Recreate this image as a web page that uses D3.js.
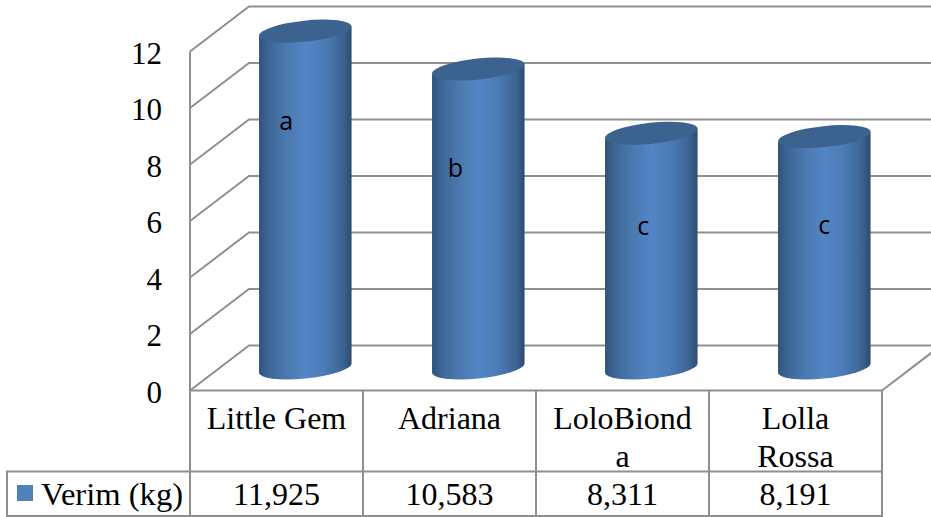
<!DOCTYPE html>
<html>
<head>
<meta charset="utf-8">
<script src="https://cdnjs.cloudflare.com/ajax/libs/d3/7.8.5/d3.min.js"></script>
<style>
  html, body { margin: 0; padding: 0; background: #fff; overflow: hidden; }
  svg { display: block; }
  text { font-family: "Liberation Serif", serif; fill: #000; }
</style>
</head>
<body>
<main></main>
<script>
// data
const categories = ["Little Gem", "Adriana", "LoloBionda", "Lolla Rossa"];
const categoryLines = [["Little Gem"], ["Adriana"], ["LoloBiond", "a"], ["Lolla", "Rossa"]];
const values = [11.925, 10.583, 8.311, 8.191];
const letters = ["a", "b", "c", "c"];
const yTicks = [0, 2, 4, 6, 8, 10, 12];
const seriesName = "Verim (kg)";

const width = 931;
const height = 517;

// 3d look: how far the back wall is pushed from the front plane
const depthX = 59;
const depthY = 45;

// table rows
const tableTop = 390.5;
const rowSplit = 471.5;
const tableBottom = 516;
const legendLeft = 7;

const gridColor = "#8f8f8f";
const fontSize = 32;

const x = d3.scaleBand().domain(categories).range([190, 882]);
const y = d3.scaleLinear().domain([0, 12]).range([tableTop, 51.5]);

const svg = d3.select("main").append("svg")
  .attr("width", width)
  .attr("height", height)
  .attr("viewBox", [0, 0, width, height]);

// horizontal gradient for the cylinder sides
const grad = svg.append("defs").append("linearGradient").attr("id", "side");
grad.selectAll("stop")
  .data([[0, "#2f5279"], [0.1, "#3d6696"], [0.3, "#4b79b0"], [0.5, "#5386c6"], [0.7, "#4c7cb5"], [0.9, "#3d6594"], [1, "#2c4b70"]])
  .join("stop")
  .attr("offset", d => d[0])
  .attr("stop-color", d => d[1]);

// walls and gridlines
const grid = svg.append("g")
  .attr("fill", "none")
  .attr("stroke", gridColor)
  .attr("stroke-width", 2);

grid.selectAll("path")
  .data(yTicks)
  .join("path")
  .attr("d", d => `M${x.range()[0]},${y(d)}L${x.range()[0] + depthX},${y(d) - depthY}L${x.range()[1] + depthX},${y(d) - depthY}`);

grid.append("line")
  .attr("x1", x.range()[0]).attr("x2", x.range()[0])
  .attr("y1", y(12)).attr("y2", tableBottom);

grid.append("line")
  .attr("x1", x.range()[1]).attr("x2", x.range()[1] + depthX)
  .attr("y1", y(0)).attr("y2", y(0) - depthY);

// y axis labels
const axis = svg.append("g")
  .attr("transform", `translate(${x.range()[0]},0)`)
  .call(d3.axisLeft(y).tickValues(yTicks).tickSize(0).tickPadding(28));
axis.select(".domain").remove();
axis.selectAll("text")
  .attr("font-family", "Liberation Serif")
  .attr("font-size", 31)
  .attr("dy", 11.5);

// cylinders
const rx = 46.5;
const ry = 10.5;
const tilt = -6;
const rad = tilt * Math.PI / 180;
const halfW = Math.sqrt(rx * rx * Math.cos(rad) ** 2 + ry * ry * Math.sin(rad) ** 2);
const edgeY = (rx * rx - ry * ry) * Math.sin(rad) * Math.cos(rad) / halfW;

const centerX = d => x(d) + x.bandwidth() / 2 + depthX / 2 - 0.7;
const centerY = v => y(v) - depthY / 2;

const bars = svg.append("g").selectAll("g")
  .data(categories.map((c, i) => ({ name: c, value: values[i] })))
  .join("g");

bars.append("path")
  .attr("fill", "url(#side)")
  .attr("d", d => {
    const cx = centerX(d.name);
    return `M${cx - halfW},${centerY(d.value) - edgeY}` +
      `L${cx - halfW},${centerY(0) - edgeY}` +
      `A${rx},${ry} ${tilt} 0 0 ${cx + halfW},${centerY(0) + edgeY}` +
      `L${cx + halfW},${centerY(d.value) + edgeY}Z`;
  });

bars.append("ellipse")
  .attr("fill", "#3c628f")
  .attr("rx", rx)
  .attr("ry", ry)
  .attr("transform", d => `translate(${centerX(d.name)},${centerY(d.value)}) rotate(${tilt})`);

// significance letters, placed by hand like in the original
const letterNudge = [[-19, 99], [-23, 108], [-8, 102], [0, 97]];
svg.append("g").selectAll("text")
  .data(letters)
  .join("text")
  .attr("x", (d, i) => centerX(categories[i]) + letterNudge[i][0])
  .attr("y", (d, i) => centerY(values[i]) + letterNudge[i][1])
  .attr("text-anchor", "middle")
  .style("font-family", "'Open Sans'")
  .attr("font-size", 25)
  .text(d => d);

// data table
const table = svg.append("g")
  .attr("fill", "none")
  .attr("stroke", gridColor)
  .attr("stroke-width", 2);

table.append("path")
  .attr("d", `M${x.range()[0]},${tableTop}H${x.range()[1]}V${tableBottom}H${legendLeft}V${rowSplit}H${x.range()[1]}`);

table.selectAll("line")
  .data(categories.slice(1))
  .join("line")
  .attr("x1", d => x(d)).attr("x2", d => x(d))
  .attr("y1", tableTop).attr("y2", tableBottom);

const cells = svg.append("g")
  .attr("text-anchor", "middle")
  .attr("font-size", fontSize);

cells.selectAll("text.cat")
  .data(categories.flatMap((c, i) => categoryLines[i].map((t, j) => ({ c, t, j }))))
  .join("text")
  .attr("class", "cat")
  .attr("x", d => x(d.c) + x.bandwidth() / 2)
  .attr("y", d => 429 + d.j * 38)
  .text(d => d.t);

// values use a decimal comma
cells.selectAll("text.val")
  .data(values)
  .join("text")
  .attr("class", "val")
  .attr("x", (d, i) => x(categories[i]) + x.bandwidth() / 2)
  .attr("y", 505)
  .text(d => d.toFixed(3).replace(".", ","));

// legend cell
svg.append("rect")
  .attr("x", 17).attr("y", 485)
  .attr("width", 16).attr("height", 16)
  .attr("fill", "#4f81bd");

svg.append("text")
  .attr("x", 41).attr("y", 505)
  .attr("font-size", 32.6)
  .text(seriesName);
</script>
</body>
</html>
